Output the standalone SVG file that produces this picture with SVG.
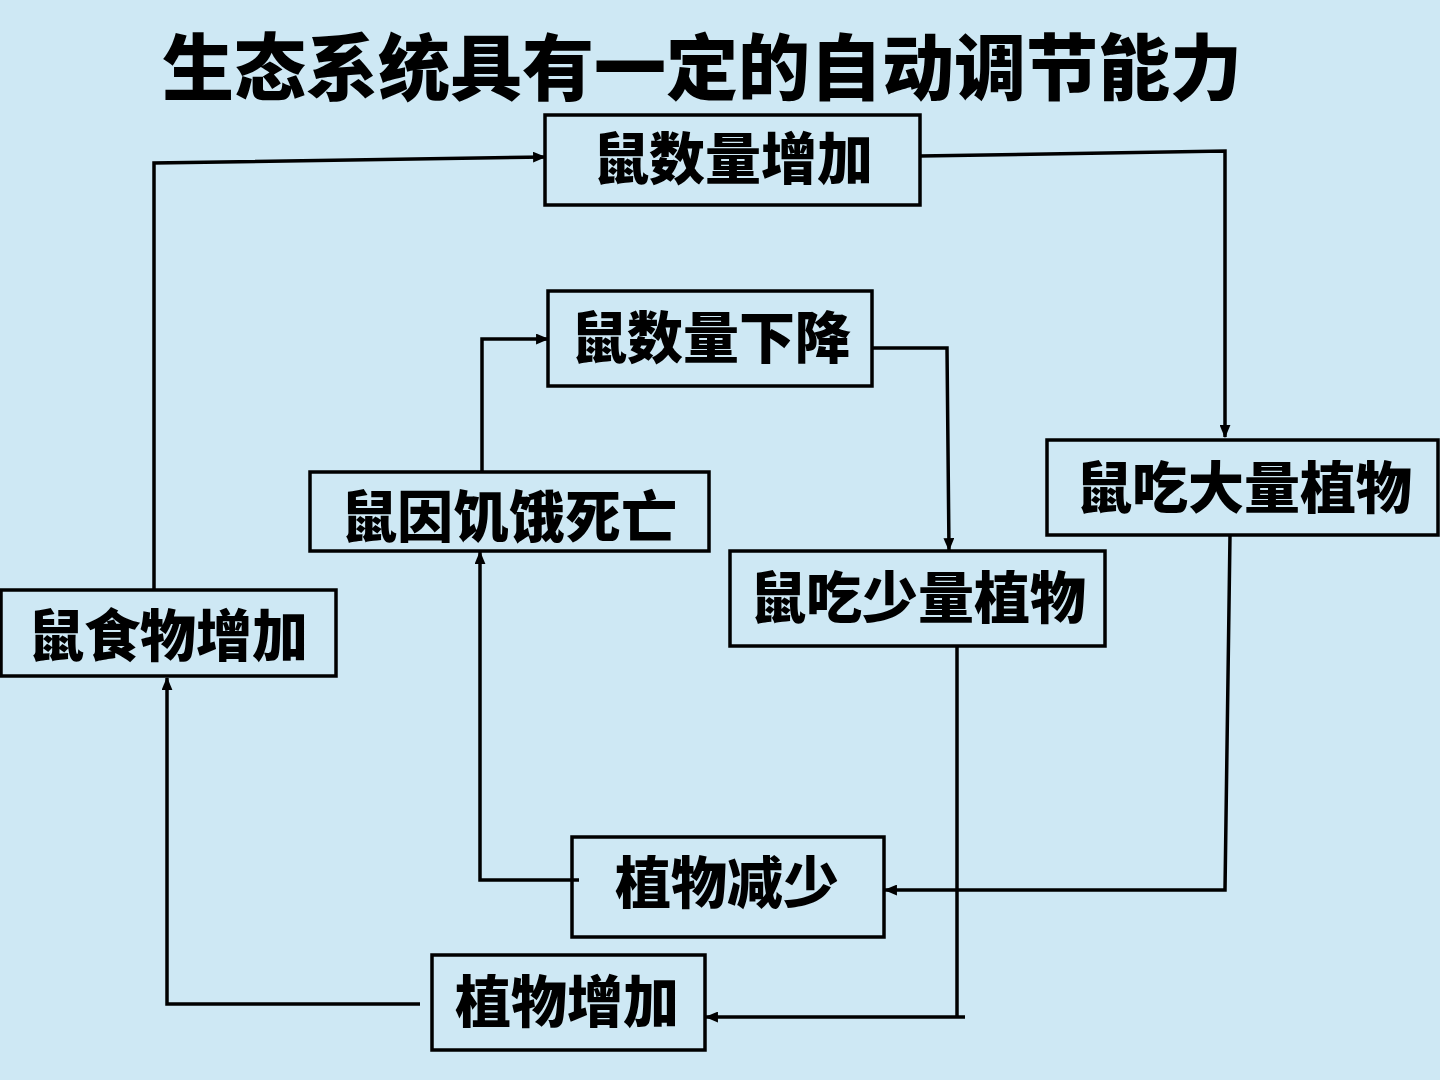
<svg xmlns="http://www.w3.org/2000/svg" width="1440" height="1080" viewBox="0 0 1440 1080">
<defs>
<style>
.box{fill:none;stroke:#000;stroke-width:3.5}
.lbl{font-family:"Noto Sans CJK SC","Noto Sans",sans-serif;font-weight:900;font-size:56px;fill:#000;text-anchor:middle}
.title{font-family:"Noto Sans CJK SC","Noto Sans",sans-serif;font-weight:900;font-size:72px;fill:#000;text-anchor:middle}
.con{fill:none;stroke:#000;stroke-width:3.5;marker-end:url(#ah)}
</style>
<marker id="ah" viewBox="0 0 12 10" refX="11" refY="5" markerWidth="13" markerHeight="11" markerUnits="userSpaceOnUse" orient="auto">
<path d="M0,0 L12,5 L0,10 Z" fill="#000"/>
</marker>
</defs>
<rect width="1440" height="1080" fill="#cee8f4"/>
<text class="title" x="702" y="94">生态系统具有一定的自动调节能力</text>
<g id="connectors">
<path class="con" d="M154,590 L154,163 L545,157"/>
<path class="con" d="M920,156 L1225,151 L1225,437"/>
<path class="con" d="M1230,535 L1225,890 L885,890"/>
<path class="con" d="M579,880 L480,880 L480,552"/>
<path class="con" d="M482,472 L482,339 L548,339"/>
<path class="con" d="M872,348 L947,348 L949,550"/>
<path class="con" d="M965,1017 L957,1017 L957,646 M957,1017 L706,1017"/>
<path class="con" d="M420,1004 L167,1004 L167,678"/>
</g>
<g id="n1"><rect class="box" x="545" y="115" width="375" height="90"/><text class="lbl" x="733" y="179">鼠数量增加</text></g>
<g id="n2"><rect class="box" x="548" y="291" width="324" height="95"/><text class="lbl" x="711" y="358">鼠数量下降</text></g>
<g id="n3"><rect class="box" x="1047" y="440" width="391" height="95"/><text class="lbl" x="1244" y="508">鼠吃大量植物</text></g>
<g id="n4"><rect class="box" x="310" y="472" width="399" height="79"/><text class="lbl" x="509" y="537">鼠因饥饿死亡</text></g>
<g id="n5"><rect class="box" x="730" y="551" width="375" height="95"/><text class="lbl" x="918" y="618">鼠吃少量植物</text></g>
<g id="n6"><rect class="box" x="1" y="590" width="335" height="86"/><text class="lbl" x="168" y="656">鼠食物增加</text></g>
<g id="n7"><rect class="box" x="572" y="837" width="312" height="100"/><text class="lbl" x="727" y="903">植物减少</text></g>
<g id="n8"><rect class="box" x="432" y="955" width="273" height="95"/><text class="lbl" x="567" y="1022">植物增加</text></g>
</svg>
